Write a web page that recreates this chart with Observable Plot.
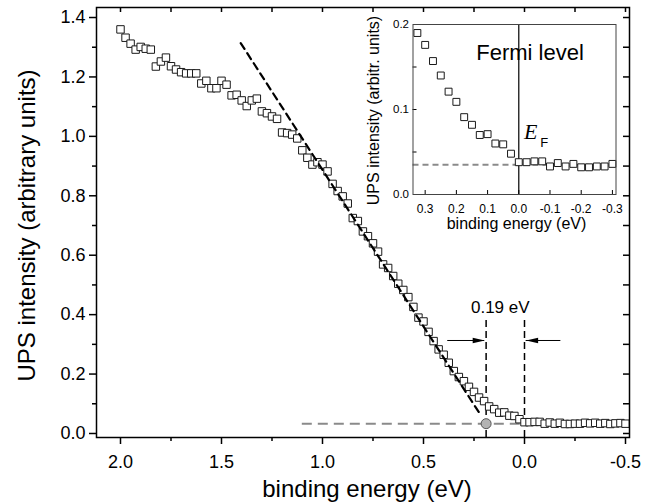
<!DOCTYPE html>
<html>
<head>
<meta charset="utf-8">
<script src="https://cdn.jsdelivr.net/npm/d3@7"></script>
<script src="https://cdn.jsdelivr.net/npm/@observablehq/plot@0.6"></script>
<style>
  html, body { margin: 0; padding: 0; background: white; }
  #wrap { position: relative; width: 646px; height: 503px; }
  #inset { position: absolute; left: 340px; top: 0px; }
</style>
</head>
<body>
<div id="wrap"><div id="main"></div><div id="inset"></div></div>
<script>
// ---- data (binding energy in eV, UPS intensity in arbitrary units) ----
const energy = [
  2.000, 1.975, 1.950, 1.925, 1.900, 1.875, 1.850, 1.825, 1.800, 1.775,
  1.750, 1.725, 1.700, 1.675, 1.650, 1.625, 1.600, 1.575, 1.550, 1.525,
  1.500, 1.475, 1.450, 1.425, 1.400, 1.375, 1.350, 1.325, 1.300, 1.275,
  1.250, 1.225, 1.200, 1.175, 1.150, 1.125, 1.100, 1.075, 1.050, 1.025,
  1.000, 0.975, 0.950, 0.925, 0.900, 0.875, 0.850, 0.825, 0.800, 0.775,
  0.750, 0.725, 0.700, 0.675, 0.650, 0.625, 0.600, 0.575, 0.550, 0.525,
  0.500, 0.475, 0.450, 0.425, 0.400, 0.375, 0.350, 0.325, 0.300, 0.275,
  0.250, 0.225, 0.200, 0.175, 0.150, 0.125, 0.100, 0.075, 0.050, 0.025,
  0.000, -0.025, -0.050, -0.075, -0.100, -0.125, -0.150, -0.175, -0.200, -0.225,
  -0.250, -0.275, -0.300, -0.325, -0.350, -0.375, -0.400, -0.425, -0.450, -0.475,
  -0.500
];
const intensity = [
  1.360, 1.332, 1.312, 1.292, 1.301, 1.295, 1.292, 1.235, 1.252, 1.265,
  1.236, 1.225, 1.216, 1.212, 1.212, 1.212, 1.178, 1.187, 1.162, 1.162,
  1.187, 1.174, 1.138, 1.140, 1.121, 1.102, 1.121, 1.127, 1.084, 1.078,
  1.067, 1.059, 1.013, 1.011, 1.006, 0.993, 0.953, 0.928, 0.905, 0.913,
  0.905, 0.882, 0.840, 0.816, 0.798, 0.774, 0.725, 0.715, 0.680, 0.664,
  0.640, 0.612, 0.569, 0.557, 0.530, 0.504, 0.483, 0.459, 0.426, 0.390,
  0.377, 0.342, 0.311, 0.283, 0.265, 0.238, 0.210, 0.190, 0.176, 0.157,
  0.140, 0.121, 0.109, 0.091, 0.082, 0.070, 0.071, 0.060, 0.059, 0.048,
  0.038, 0.038, 0.039, 0.039, 0.033, 0.037, 0.033, 0.036, 0.032, 0.032,
  0.033, 0.033, 0.036, 0.034, 0.036, 0.033, 0.035, 0.032, 0.034, 0.035,
  0.033
];
// linear extrapolation of the leading edge
const fitEnergy = [1.405, 0.215];
const fitIntensity = [1.314, 0.060];
// background level and onset
const backgroundLevel = 0.033;
const backgroundStart = 1.10;
const onsetEnergy = 0.19;
const fermiEnergy = 0.0;
const markerTop = 0.38;
const arrowLevel = 0.313;
const arrowLeft = [0.38, 0.197];
const arrowRight = [-0.18, -0.008];
const gapLabel = "0.19 eV";
const gapLabelPos = [0.12, 0.425];
// main ticks
const xMajor = [2.0, 1.5, 1.0, 0.5, 0.0, -0.5];
const xMinor = [1.75, 1.25, 0.75, 0.25, -0.25];
const xTop = [2.0, 1.75, 1.5, 1.25, 1.0, 0.75, 0.5, 0.25, 0.0, -0.25, -0.5];
const yMajor = [0.0, 0.2, 0.4, 0.6, 0.8, 1.0, 1.2, 1.4];
const yMinor = [0.1, 0.3, 0.5, 0.7, 0.9, 1.1, 1.3];
const yRight = [0.0, 0.1, 0.2, 0.3, 0.4, 0.5, 0.6, 0.7, 0.8, 0.9, 1.0, 1.1, 1.2, 1.3, 1.4];
// inset
const insetRange = [-0.3, 0.325];
const insetBackground = 0.035;
const insetXTicks = [0.3, 0.2, 0.1, 0.0, -0.1, -0.2, -0.3];
const insetYTicks = [0.0, 0.1, 0.2];
const insetYMinor = [0.05, 0.1, 0.15];
const texts = {
  xTitle: "binding energy (eV)",
  yTitle: "UPS intensity (arbitrary units)",
  insetY: "UPS intensity (arbitr. units)",
  insetX: "binding energy (eV)",
  fermi: "Fermi level",
  eSym: "E",
  eSub: "F"
};

// ---- build tables ----
const data = energy.map((E, i) => ({E, I: intensity[i]}));
const fit = fitEnergy.map((E, i) => ({E, I: fitIntensity[i]}));
const insetData = data.filter(d => d.E >= insetRange[0] - 1e-9 && d.E <= insetRange[1] + 1e-9);
const fmt = d => d.toFixed(1);
const font = "'Liberation Sans', Arial, Helvetica, sans-serif";

// arrowhead symbol (tip at origin, pointing right)
const arrowHead = {
  draw(ctx) {
    ctx.moveTo(0, 0);
    ctx.lineTo(-12, -2.8);
    ctx.lineTo(-12, 2.8);
    ctx.closePath();
  }
};

// ---- main chart ----
const W = 646, H = 503, mL = 96, mR = 17, mT = 7, mB = 66;
const fw = W - mL - mR, fh = H - mT - mB;
const xDom = [2.1188, -0.5198], yDom = [-0.0135, 1.4337];

const main = Plot.plot({
  width: W, height: H,
  marginLeft: mL, marginRight: mR, marginTop: mT, marginBottom: mB,
  x: {domain: xDom},
  y: {domain: yDom},
  style: {fontFamily: font, background: "white", color: "black", overflow: "visible"},
  marks: [
    Plot.ruleY([backgroundLevel], {x1: backgroundStart, x2: xDom[1], stroke: "#8a8a8a", strokeWidth: 2, strokeDasharray: "10,6"}),
    Plot.ruleX([onsetEnergy, fermiEnergy], {y1: markerTop, y2: yDom[0], stroke: "black", strokeWidth: 1.5, strokeDasharray: "7,4"}),
    Plot.dot(data, {x: "E", y: "I", symbol: "square", r: 4.2, fill: "white", stroke: "#1a1a1a", strokeWidth: 1}),
    Plot.line(fit, {x: "E", y: "I", stroke: "black", strokeWidth: 2.2, strokeDasharray: "7,5"}),
    Plot.dot([{E: onsetEnergy, I: backgroundLevel}], {x: "E", y: "I", r: 5, fill: "#b3b3b3", stroke: "#555", strokeWidth: 1}),
    // arrows
    Plot.ruleY([arrowLevel], {x1: arrowLeft[0], x2: arrowLeft[1], stroke: "black", strokeWidth: 1}),
    Plot.ruleY([arrowLevel], {x1: arrowRight[0], x2: arrowRight[1], stroke: "black", strokeWidth: 1}),
    Plot.dot([{E: arrowLeft[1], I: arrowLevel}], {x: "E", y: "I", symbol: arrowHead, fill: "black", stroke: "none", rotate: 0}),
    Plot.dot([{E: arrowRight[1], I: arrowLevel}], {x: "E", y: "I", symbol: arrowHead, fill: "black", stroke: "none", rotate: 180}),
    Plot.text([{E: gapLabelPos[0], I: gapLabelPos[1], t: gapLabel}], {x: "E", y: "I", text: "t", fontSize: 17, textAnchor: "middle", lineAnchor: "middle", fill: "black"}),
    // axes
    Plot.axisX({ticks: xMajor, tickSize: 7, tickPadding: 11, tickFormat: fmt, fontSize: 18, label: null, strokeWidth: 1.5}),
    Plot.ruleX(xMinor, {insetTop: fh, insetBottom: -4, stroke: "black", strokeWidth: 1.5}),
    Plot.ruleX(xTop, {insetBottom: fh - 5, stroke: "black", strokeWidth: 1.5}),
    Plot.axisY({ticks: yMajor, tickSize: 7, tickPadding: 4, tickFormat: fmt, fontSize: 18, label: null, strokeWidth: 1.5}),
    Plot.ruleY(yMinor, {insetRight: fw, insetLeft: -4, stroke: "black", strokeWidth: 1.5}),
    Plot.ruleY(yRight, {insetLeft: fw - 6, stroke: "black", strokeWidth: 1.5}),
    Plot.text([texts.xTitle], {frameAnchor: "bottom", dx: 4, dy: 52, fontSize: 24, textAnchor: "middle", lineAnchor: "middle", fill: "black"}),
    Plot.text([texts.yTitle], {frameAnchor: "left", dx: -69, dy: 3, rotate: -90, fontSize: 24, textAnchor: "middle", lineAnchor: "middle", fill: "black"}),
    Plot.frame({stroke: "black", strokeWidth: 1.5})
  ]
});
document.getElementById("main").appendChild(main);

// ---- inset ----
const iW = 300, iH = 240, iL = 72.5, iR = 24.5, iT = 24, iB = 46;
const ifw = iW - iL - iR, ifh = iH - iT - iB;
const inset = Plot.plot({
  width: iW, height: iH,
  marginLeft: iL, marginRight: iR, marginTop: iT, marginBottom: iB,
  x: {domain: [0.339, -0.3115]},
  y: {domain: [0, 0.2]},
  style: {fontFamily: font, background: "transparent", color: "black", overflow: "visible"},
  marks: [
    Plot.ruleY([insetBackground], {stroke: "#8a8a8a", strokeWidth: 2, strokeDasharray: "6,4"}),
    Plot.ruleX([fermiEnergy], {stroke: "black", strokeWidth: 1.2}),
    Plot.dot(insetData, {x: "E", y: "I", symbol: "square", r: 3.9, fill: "white", stroke: "#1a1a1a", strokeWidth: 1}),
    Plot.text([{E: -0.036, I: 0.1585, t: texts.fermi}], {x: "E", y: "I", text: "t", fontSize: 22, textAnchor: "middle", lineAnchor: "bottom", fill: "black"}),
    Plot.text([{E: -0.017, I: 0.0655, t: texts.eSym}], {x: "E", y: "I", text: "t", fontSize: 22, fontFamily: "'Liberation Serif', 'Times New Roman', serif", fontStyle: "italic", textAnchor: "start", lineAnchor: "bottom", fill: "black"}),
    Plot.text([{E: -0.069, I: 0.0556, t: texts.eSub}], {x: "E", y: "I", text: "t", fontSize: 13, textAnchor: "start", lineAnchor: "bottom", fill: "black"}),
    Plot.axisX({ticks: insetXTicks, tickSize: 0, tickPadding: 10, tickFormat: fmt, fontSize: 12, label: null}),
    Plot.ruleX(insetXTicks, {insetTop: ifh - 4, stroke: "black", strokeWidth: 1}),
    Plot.axisY({ticks: insetYTicks, tickSize: 0, tickPadding: 4, tickFormat: fmt, fontSize: 11.5, label: null}),
    Plot.ruleY(insetYMinor, {insetRight: ifw - 4, stroke: "black", strokeWidth: 1}),
    Plot.text([texts.insetX], {frameAnchor: "bottom", dx: 2, dy: 29, fontSize: 16, textAnchor: "middle", lineAnchor: "middle", fill: "black"}),
    Plot.text([texts.insetY], {frameAnchor: "left", dx: -39.5, dy: 1, rotate: -90, fontSize: 16, textAnchor: "middle", lineAnchor: "middle", fill: "black"}),
    Plot.frame({stroke: "#444", strokeWidth: 1})
  ]
});
document.getElementById("inset").appendChild(inset);
</script>
</body>
</html>
